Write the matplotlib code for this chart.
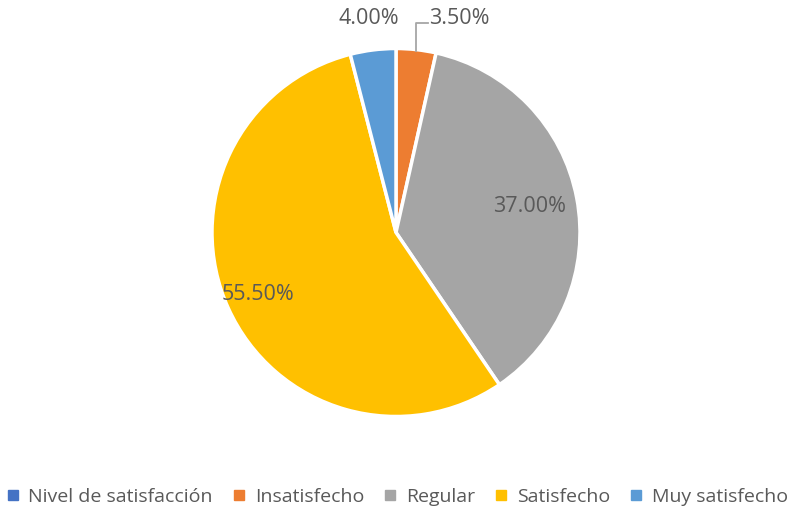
import numpy as np
import matplotlib.pyplot as plt
from matplotlib.lines import Line2D

plt.rcParams['font.family'] = ['Open Sans', 'DejaVu Sans']

# --- data ---
categories = ["Nivel de satisfacción", "Insatisfecho", "Regular", "Satisfecho", "Muy satisfecho"]
values = [0.0, 3.5, 37.0, 55.5, 4.0]
colors = ["#4472C4", "#ED7D31", "#A5A5A5", "#FFC000", "#5B9BD5"]

W, H = 792, 509
fig = plt.figure(figsize=(W / 100, H / 100), dpi=100)
ax = fig.add_axes([0, 0, 1, 1])

cx, cy, R = 396, H - 232.5, 184
pie_vals = values[1:]
wedges, _ = ax.pie(pie_vals, colors=colors[1:], startangle=90, counterclock=False,
                   center=(cx, cy), radius=R, frame=True,
                   wedgeprops=dict(edgecolor='white', linewidth=2.5))
ax.set_xlim(0, W)
ax.set_ylim(0, H)
ax.set_aspect('equal')
ax.axis('off')

# label distances (fraction of radius), Excel "best fit" look
dists = [None, 0.74, 0.82, 1.17]
txt_color = "#595959"
for w, v, d in zip(wedges, pie_vals, dists):
    mid = np.deg2rad((w.theta1 + w.theta2) / 2)
    label = f"{v:.2f}%"
    if d is None:
        # small slice -> label outside with leader line
        x0 = cx + R * 0.99 * np.cos(mid)
        y0 = cy + R * 0.99 * np.sin(mid)
        ax.plot([x0, x0, x0 + 12], [y0, H - 23, H - 23], color="#A6A6A6", lw=1.3)
        ax.text(x0 + 13, H - 18, label, ha='left', va='center', fontsize=15.5, color=txt_color)
    else:
        ax.text(cx + R * d * np.cos(mid), cy + R * d * np.sin(mid), label,
                ha='center', va='center', fontsize=15.5, color=txt_color)

handles = [Line2D([], [], marker='s', linestyle='none', markersize=6.5,
                  markerfacecolor=c, markeredgecolor=c) for c in colors]
fig.legend(handles, categories, loc='center', bbox_to_anchor=(0.502, 1 - 497 / H),
           ncol=5, frameon=False, fontsize=14.0, handlelength=0.6, handletextpad=0.5,
           columnspacing=1.05, labelcolor=txt_color, borderaxespad=0)

fig.savefig("out.png", dpi=100)
